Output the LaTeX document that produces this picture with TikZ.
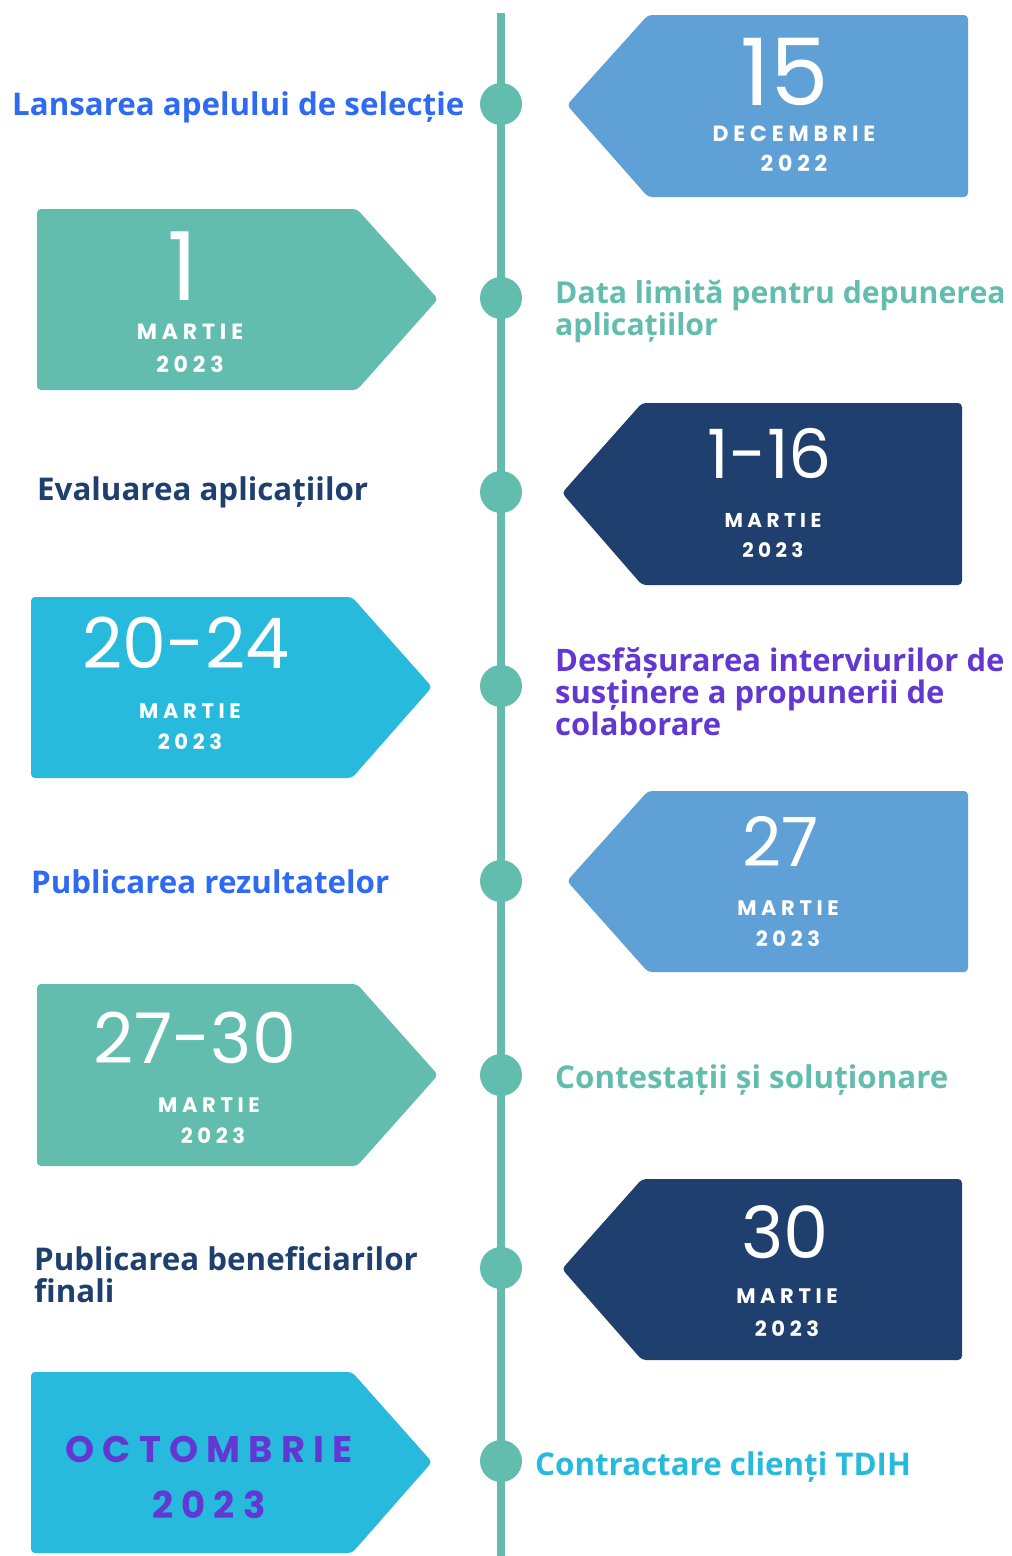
\documentclass[tikz,border=0pt]{standalone}
\usepackage{fontspec}
\setmainfont{Open Sans}
\newfontfamily\popnum{Poppins}
\newfontfamily\popls[LetterSpace=22]{Poppins}
\newfontfamily\lab{Open Sans}
\definecolor{tealc}{HTML}{63BDAE}
\definecolor{lblue}{HTML}{5FA0D6}
\definecolor{darkb}{HTML}{1F3F6E}
\definecolor{cyanc}{HTML}{28BADC}
\definecolor{blueT}{HTML}{2F6BF2}
\definecolor{purp}{HTML}{6338D2}
\tikzset{
  tagbox/.style={rounded corners=4pt},
  dot/.style={circle,fill=tealc,minimum size=42pt,inner sep=0pt},
  bignum/.style={anchor=base,text=white,inner sep=0pt,font=\popnum\fontsize{#1}{#1}\selectfont},
  month/.style={anchor=base,text=white,inner sep=0pt,font=\popls\bfseries\fontsize{#1}{#1}\selectfont},
  lbl/.style={anchor=base west,inner sep=0pt,align=left,font=\lab\bfseries\fontsize{31.3}{32}\selectfont}
}
\begin{document}
\begin{tikzpicture}[x=1pt,y=-1pt]
\useasboundingbox (0,0) rectangle (1012,1556);
\fill[white] (0,0) rectangle (1012,1556);
% timeline
\coordinate (ltop) at (501,13);
\coordinate (lbot) at (501,1556);
\draw[tealc,line width=8pt] (ltop) -- (lbot);
\foreach \i/\y in {1/104,2/298,3/492,4/686,5/881,6/1075,7/1268,8/1461}
  \node[dot] (d\i) at (501,\y) {};
% right-side tags (pointing left)
\fill[lblue,tagbox] (567,105) -- (648,15) -- (968,15) -- (968,197) -- (648,197) -- cycle;
\fill[darkb,tagbox] (562,493) -- (642,403) -- (962,403) -- (962,585) -- (642,585) -- cycle;
\fill[lblue,tagbox] (567,881) -- (648,791) -- (968,791) -- (968,972) -- (648,972) -- cycle;
\fill[darkb,tagbox] (562,1269) -- (642,1179) -- (962,1179) -- (962,1360) -- (642,1360) -- cycle;
% left-side tags (pointing right)
\fill[tealc,tagbox] (37,209) -- (357,209) -- (438,299) -- (357,390) -- (37,390) -- cycle;
\fill[cyanc,tagbox] (31,597) -- (352,597) -- (432,687) -- (352,778) -- (31,778) -- cycle;
\fill[tealc,tagbox] (37,984) -- (357,984) -- (438,1075) -- (357,1166) -- (37,1166) -- cycle;
\fill[cyanc,tagbox] (31,1372) -- (352,1372) -- (432,1462) -- (352,1553) -- (31,1553) -- cycle;
% dates
\node[bignum=93] (n1) at (785,105) {15};
\node[month=22] (m1) at (794,141) {DECEMBRIE};
\node[month=22] (y1) at (794,171) {2022};
\node[bignum=95] (n2) at (183,300) {1};
\node[month=22] (m2) at (190,339) {MARTIE};
\node[month=22] (y2) at (190,372) {2023};
\node[bignum=68] (n3) at (770,478) {1-16};
\node[month=20] (m3) at (773,527) {MARTIE};
\node[month=20] (y3) at (773,557) {2023};
\node[bignum=70] (n4) at (186,668) {20-24};
\node[month=21] (m4) at (190,718) {MARTIE};
\node[month=21] (y4) at (190,749) {2023};
\node[bignum=68] (n5) at (781,866) {27};
\node[month=21] (m5) at (788,915) {MARTIE};
\node[month=21] (y5) at (788,946) {2023};
\node[bignum=70] (n6) at (195,1063) {27-30};
\node[month=21] (m6) at (209,1112) {MARTIE};
\node[month=21] (y6) at (213,1143) {2023};
\node[bignum=72] (n7) at (785,1258) {30};
\node[month=21] (m7) at (787,1303) {MARTIE};
\node[month=21] (y7) at (787,1336) {2023};
\node[month=37,text=purp] (m8) at (209,1462) {OCTOMBRIE};
\node[month=37,text=purp] (y8) at (209,1518) {2023};
% labels
\node[lbl,text=blueT] (t1) at (12,115) {Lansarea apelului de selecție};
\node[lbl,text=tealc,font=\lab\bfseries\fontsize{30.2}{32}\selectfont] (t2) at (555,335) {Data limită pentru depunerea\\aplicațiilor};
\node[lbl,text=darkb] (t3) at (37,500) {Evaluarea aplicațiilor};
\node[lbl,text=purp,font=\lab\bfseries\fontsize{31}{32}\selectfont] (t4) at (555,735) {Desfășurarea interviurilor de\\susținere a propunerii de\\colaborare};
\node[lbl,text=blueT] (t5) at (31,893) {Publicarea rezultatelor};
\node[lbl,text=tealc] (t6) at (555,1088) {Contestații și soluționare};
\node[lbl,text=darkb] (t7) at (34,1302) {Publicarea beneficiarilor\\finali};
\node[lbl,text=cyanc] (t8) at (535,1475) {Contractare clienți TDIH};
\end{tikzpicture}
\end{document}
